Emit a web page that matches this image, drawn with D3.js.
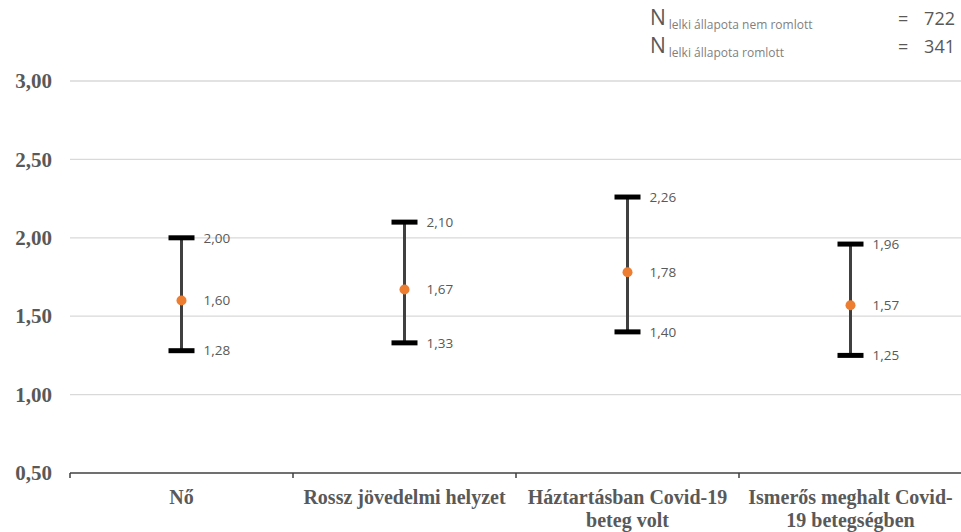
<!DOCTYPE html>
<html>
<head>
<meta charset="utf-8">
<script src="https://cdn.jsdelivr.net/npm/d3@7"></script>
<style>
  html, body { margin: 0; padding: 0; background: #fff; }
  svg { display: block; }
</style>
</head>
<body>
<div id="chart"></div>
<script>
// Categories (label lines) and interval values
const categories = [
  ["Nő"],
  ["Rossz jövedelmi helyzet"],
  ["Háztartásban Covid-19", "beteg volt"],
  ["Ismerős meghalt Covid-", "19 betegségben"]
];
const lowerValues = [1.28, 1.33, 1.40, 1.25];
const meanValues  = [1.60, 1.67, 1.78, 1.57];
const upperValues = [2.00, 2.10, 2.26, 1.96];
const yTicks = [0.5, 1.0, 1.5, 2.0, 2.5, 3.0];
const sampleLabels = ["lelki állapota nem romlott", "lelki állapota romlott"];
const sampleSizes = [722, 341];

const W = 961, H = 532;
const margin = { left: 70, right: 0, top: 81, bottom: 59 };

const svg = d3.select("#chart").append("svg")
  .attr("width", W).attr("height", H);

const fmt = v => d3.format(".2f")(v).replace(".", ",");

const x = d3.scaleBand()
  .domain(d3.range(categories.length))
  .range([margin.left, margin.left + 223 * 4])
  .padding(0);

const y = d3.scaleLinear()
  .domain([0.5, 3.0])
  .range([H - margin.bottom, margin.top]);

// Horizontal grid
svg.append("g")
  .selectAll("line")
  .data(yTicks.filter(t => t > 0.5))
  .join("line")
  .attr("x1", margin.left).attr("x2", W)
  .attr("y1", d => y(d)).attr("y2", d => y(d))
  .attr("stroke", "#d9d9d9").attr("stroke-width", 1.3);

// Y axis labels
const yAxis = d3.axisLeft(y).tickValues(yTicks).tickFormat(fmt).tickSize(0).tickPadding(18);
const gy = svg.append("g").attr("transform", `translate(${margin.left},0)`).call(yAxis);
gy.select(".domain").remove();
gy.selectAll("text")
  .attr("font-family", "'Liberation Serif', 'Times New Roman', serif")
  .attr("font-weight", "bold")
  .attr("font-size", 21)
  .attr("fill", "#595959");

// X axis with ticks at category boundaries
const baseY = y(0.5);
svg.append("line")
  .attr("x1", margin.left).attr("x2", W)
  .attr("y1", baseY).attr("y2", baseY)
  .attr("stroke", "#404040").attr("stroke-width", 1.5);
svg.append("g")
  .selectAll("line")
  .data(d3.range(categories.length))
  .join("line")
  .attr("x1", d => x(d)).attr("x2", d => x(d))
  .attr("y1", baseY).attr("y2", baseY + 5)
  .attr("stroke", "#404040").attr("stroke-width", 1.5);

// Category labels
const catG = svg.append("g");
categories.forEach((lines, i) => {
  const t = catG.append("text")
    .attr("x", x(i) + x.bandwidth() / 2)
    .attr("y", 504)
    .attr("text-anchor", "middle")
    .attr("font-family", "'Liberation Serif', 'Times New Roman', serif")
    .attr("font-weight", "bold")
    .attr("font-size", 20)
    .attr("fill", "#595959");
  lines.forEach((ln, j) => {
    t.append("tspan").attr("x", x(i) + x.bandwidth() / 2).attr("dy", j === 0 ? 0 : 23).text(ln);
  });
});

// Error bars
const bars = svg.append("g");
const cx = i => x(i) + x.bandwidth() / 2;
const idx = d3.range(categories.length);

bars.selectAll("line.stem").data(idx).join("line")
  .attr("x1", cx).attr("x2", cx)
  .attr("y1", i => y(upperValues[i])).attr("y2", i => y(lowerValues[i]))
  .attr("stroke", "#404040").attr("stroke-width", 3);

[upperValues, lowerValues].forEach(vals => {
  bars.append("g").selectAll("line").data(idx).join("line")
    .attr("x1", i => cx(i) - 13).attr("x2", i => cx(i) + 13)
    .attr("y1", i => y(vals[i])).attr("y2", i => y(vals[i]))
    .attr("stroke", "#000").attr("stroke-width", 5);
});

bars.selectAll("circle").data(idx).join("circle")
  .attr("cx", cx).attr("cy", i => y(meanValues[i]))
  .attr("r", 5).attr("fill", "#ed7d31");

// Value labels
[upperValues, meanValues, lowerValues].forEach(vals => {
  bars.append("g").selectAll("text").data(idx).join("text")
    .attr("x", i => cx(i) + 22)
    .attr("y", i => y(vals[i]))
    .attr("dy", "0.35em")
    .attr("font-family", "'Open Sans', 'Liberation Sans', sans-serif")
    .attr("font-size", 13.5)
    .attr("fill", "#595959")
    .text(i => fmt(vals[i]));
});

// Sample size note
const note = svg.append("g");
sampleLabels.forEach((lab, i) => {
  const yy = 25 + i * 28;
  const t = note.append("text")
    .attr("x", 650).attr("y", yy)
    .attr("font-family", "'Open Sans', 'Liberation Sans', sans-serif")
    .attr("fill", "#595959");
  t.append("tspan").attr("font-size", 21).text("N");
  t.append("tspan").attr("font-size", 12).attr("fill", "#7f7f7f").attr("dx", 3).attr("dy", 4).text(lab);
  note.append("text")
    .attr("x", 898).attr("y", yy)
    .attr("font-family", "'Open Sans', 'Liberation Sans', sans-serif")
    .attr("font-size", 18)
    .attr("fill", "#595959")
    .text("=");
  note.append("text")
    .attr("x", 955).attr("y", yy)
    .attr("text-anchor", "end")
    .attr("font-family", "'Open Sans', 'Liberation Sans', sans-serif")
    .attr("font-size", 18)
    .attr("fill", "#595959")
    .text(sampleSizes[i]);
});
</script>
</body>
</html>
